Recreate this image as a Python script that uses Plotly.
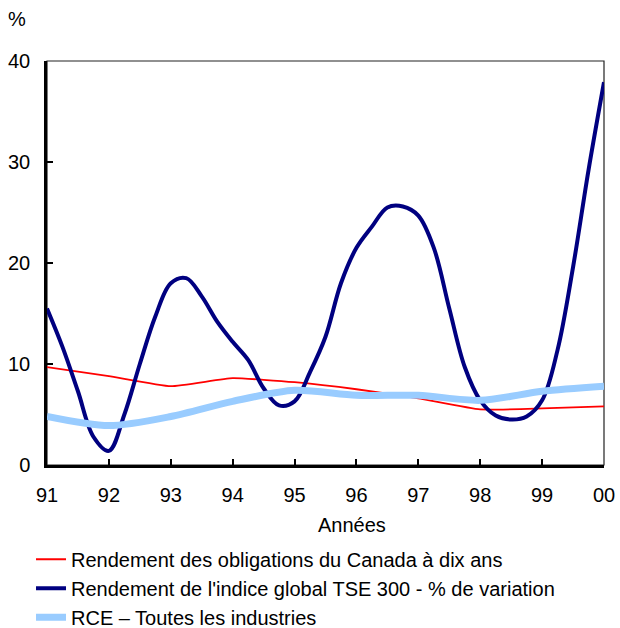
import plotly.graph_objects as go

# Quarterly positions for the TSE series, annual for the others
years = [1991, 1992, 1993, 1994, 1995, 1996, 1997, 1998, 1999, 2000]
year_labels = ["91", "92", "93", "94", "95", "96", "97", "98", "99", "00"]

bond_yield = [9.7, 8.8, 7.8, 8.6, 8.2, 7.5, 6.6, 5.5, 5.6, 5.8]
rce_all = [4.8, 3.9, 4.8, 6.3, 7.4, 6.9, 6.9, 6.4, 7.3, 7.8]

tse_quarters = [1991 + k / 4 for k in range(37)]
tse_return = [15.5, 11.7, 7.3, 2.8, 1.4, 5.0, 10.0, 14.7, 18.0,
              18.5, 16.7, 14.2, 12.2, 10.4, 7.6, 5.9, 6.3,
              9.2, 12.7, 18.0, 21.5, 23.6, 25.5, 25.6, 24.7,
              21.5, 15.5, 9.7, 6.4, 4.9, 4.5, 4.8, 6.4,
              11.4, 19.6, 29.2, 37.9]

y_ticks = [0, 10, 20, 30, 40]

FONT = "Liberation Sans, Arial, sans-serif"

fig = go.Figure()
fig.add_trace(go.Scatter(
    x=years, y=bond_yield, mode="lines",
    name="Rendement des obligations du Canada à dix ans",
    line=dict(color="#FF0000", width=1.8, shape="spline", smoothing=0.4),
))
fig.add_trace(go.Scatter(
    x=tse_quarters, y=tse_return, mode="lines",
    name="Rendement de l'indice global TSE 300 - % de variation",
    line=dict(color="#000080", width=4, shape="spline", smoothing=1.0),
))
fig.add_trace(go.Scatter(
    x=years, y=rce_all, mode="lines",
    name="RCE – Toutes les industries",
    line=dict(color="#99CCFF", width=7, shape="spline", smoothing=0.8),
))

# thin frame (top / right)
fig.add_shape(type="rect", xref="paper", yref="paper", x0=0, x1=1, y0=0, y1=1,
              line=dict(color="#222222", width=1.2), layer="below")

fig.update_layout(
    width=620, height=660,
    margin=dict(l=47, r=16, t=61, b=195, autoexpand=False),
    paper_bgcolor="white", plot_bgcolor="white",
    font=dict(family=FONT, size=20, color="black"),
    showlegend=True,
    legend=dict(
        x=-0.0287, y=-0.185, xanchor="left", yanchor="top",
        font=dict(family=FONT, size=20, color="black"),
        bgcolor="rgba(0,0,0,0)", tracegroupgap=0,
        itemwidth=30,
    ),
    xaxis=dict(
        range=[1991, 2000], tickmode="array", tickvals=years, ticktext=year_labels,
        showgrid=False, zeroline=False, showline=True, linecolor="black", linewidth=2.5,
        ticks="inside", ticklen=6, tickwidth=1.5, tickcolor="black",
        ticklabelstandoff=10, automargin=False, ticklabeloverflow="allow",
        tickfont=dict(family=FONT, size=20),
    ),
    yaxis=dict(
        range=[0, 40], tickmode="array", tickvals=y_ticks,
        showgrid=False, zeroline=False, showline=True, linecolor="black", linewidth=2.5,
        ticks="inside", ticklen=6, tickwidth=1.5, tickcolor="black",
        ticklabelstandoff=10, automargin=False, ticklabeloverflow="allow",
        tickfont=dict(family=FONT, size=20),
    ),
    annotations=[
        dict(text="%", xref="paper", yref="paper", x=-0.054, y=1.104,
             xanchor="center", yanchor="middle", showarrow=False,
             font=dict(family=FONT, size=20)),
        dict(text="Années", xref="paper", yref="paper", x=0.5476, y=-0.1485,
             xanchor="center", yanchor="middle", showarrow=False,
             font=dict(family=FONT, size=20)),
    ],
)

fig.write_html(
    "out.html",
    config={"displayModeBar": False},
    post_script=(
        "document.body.style.margin='0';"
        "document.body.style.overflow='hidden';"
        "document.documentElement.style.overflow='hidden';"
    ),
)
